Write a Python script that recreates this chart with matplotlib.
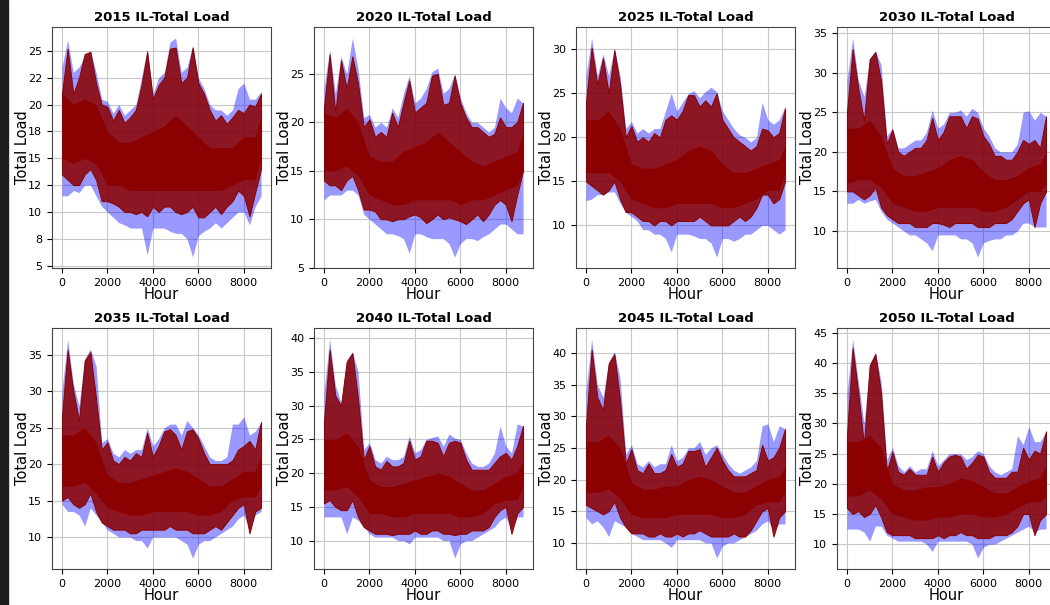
import numpy as np
import matplotlib
matplotlib.use('Agg')
import matplotlib.pyplot as plt
from matplotlib.ticker import FormatStrFormatter
from matplotlib.patches import Rectangle

HOURS = [0, 250, 500, 750, 1000, 1250, 1500, 1750, 2000, 2250, 2500, 2750,
         3000, 3250, 3500, 3750, 4000, 4250, 4500, 4750, 5000, 5250, 5500, 5750,
         6000, 6250, 6500, 6750, 7000, 7250, 7500, 7750, 8000, 8250, 8500, 8759]
# coarser grid for the solid core of the red curve
BODY_HOURS = [0, 500, 1000, 1500, 2000, 2500, 3000, 3500, 4000, 4500,
              5000, 5500, 6000, 6500, 7000, 7500, 8000, 8500, 8759]

YEARS = [2015, 2020, 2025, 2030, 2035, 2040, 2045, 2050]

# red = base case (spike tops / dips), blue = scenario spread
red_hi_2015 = [21, 25.2, 21, 22.5, 24.7, 24.9, 22, 20, 19.8, 18.5, 19.5, 18.3, 18.8, 19.5, 21.8, 24.9, 20.5, 21.8,
               22.5, 25.2, 25.3, 22, 22.5, 25.3, 22, 21, 19.5, 18.5, 19, 18.2, 18.8, 19.5, 19.2, 20, 19.8, 21]
red_lo_2015 = [13.5, 13, 12.5, 12.5, 13.5, 14, 13, 11, 11, 10.8, 10.5, 10, 10, 9.8, 10, 9.6, 10.5, 10,
               10.5, 10.5, 10, 9.8, 10, 10.5, 9.5, 9.5, 10, 10.5, 9.8, 10.5, 11, 12, 11.5, 9.6, 11.8, 14]
blue_hi_2015 = [23.5, 26, 23, 23.5, 24.5, 25, 23, 20.5, 20.3, 19.2, 20, 19, 19.5, 20, 22.5, 25.2, 21, 22.5,
                23, 25.8, 26.2, 23, 23.5, 25.5, 22.5, 21.5, 20, 19.5, 19.5, 19, 19.5, 21.5, 22, 20.5, 20.5, 21.2]
blue_lo_2015 = [11.5, 11.5, 12, 11.8, 12.5, 12.5, 11.5, 10.5, 10, 9.5, 9, 8.8, 8.5, 8.5, 8.5, 6, 8.5, 8.5,
                8.5, 8.2, 8, 8, 7.5, 5.8, 7.8, 8.2, 8.5, 9, 8.5, 9, 9.5, 10, 10, 8.8, 10.5, 11.5]
red_body_hi_2015 = [21, 20, 20.5, 20, 17.5, 16.5, 16.5, 17, 17.5, 18, 19, 18, 17, 16, 16, 16, 17, 17, 19]
red_body_lo_2015 = [15, 14.5, 15, 14.5, 12.5, 12.5, 12, 12, 12, 12, 12, 12, 12, 12, 12, 12.5, 13, 13, 15]

red_hi_2020 = [21.5, 27, 21, 26.4, 23.5, 26.8, 24, 19.5, 20.3, 18.5, 19, 18.5, 21, 19.5, 22, 24.3, 21, 21.5,
               22, 24.8, 25, 21.8, 22, 24.8, 22, 20.5, 19.5, 19.5, 19, 18.5, 18.8, 20.5, 19.5, 19.5, 20, 22]
red_lo_2020 = [14, 13.5, 13.5, 13, 14, 14.5, 13, 11, 11, 10.8, 10, 10, 9.8, 10, 10, 10.3, 10.5, 10.2,
               9.6, 10, 10.5, 10, 10.2, 10, 9.8, 9.5, 10, 10.5, 9.8, 10.5, 11.5, 12, 11.5, 9.8, 12.5, 15]
blue_hi_2020 = [23.5, 27.5, 23, 26.8, 25, 28.7, 25.5, 20.5, 20.8, 19.5, 20, 19.5, 21.5, 20.5, 23, 24.8, 22, 22.5,
                23.5, 25.2, 25.6, 23, 23.5, 25, 22.5, 21, 20, 20, 19.5, 19, 19.5, 22.5, 21.5, 21, 22.5, 22]
blue_lo_2020 = [12, 12.5, 12.5, 12.5, 13, 13, 12.5, 10.5, 10, 9.5, 9, 8.5, 8.5, 8.3, 8, 6.5, 8.5, 8.5,
                8.2, 8, 8, 8, 7.5, 6.1, 7.5, 8, 8, 7.8, 8.2, 8.5, 9, 9.5, 9.5, 9, 8.5, 8.5]
red_body_hi_2020 = [21, 20.5, 21.5, 20, 16.5, 16, 16, 17, 17.5, 18, 19, 18, 17, 16, 15.5, 16, 16.5, 17, 19]
red_body_lo_2020 = [15, 15, 15.5, 14.5, 12.5, 12, 11.5, 11.5, 12, 12, 12, 12, 11.5, 12, 12, 12.5, 13, 13.5, 15]

red_hi_2025 = [24, 30.2, 26, 29, 25, 29.9, 26, 20, 21.3, 19.5, 20, 19.5, 20.5, 20, 22, 22.5, 22, 23,
               24.8, 24.8, 23.5, 24.2, 23.5, 25, 22, 21, 20, 19.5, 19, 18.5, 19, 21, 20.8, 20, 20.5, 23.3]
red_lo_2025 = [15, 14.5, 14, 13.5, 14, 15, 13, 11.5, 11.5, 11, 10.5, 10.5, 10, 10.5, 10.5, 10, 10.5, 10.5,
               10.5, 10.5, 11, 10.5, 10, 10, 10, 10, 10.5, 11, 10.5, 11, 12, 13.5, 13.5, 12.5, 13, 15]
blue_hi_2025 = [27, 31.3, 27, 29.5, 27, 30.2, 27, 21, 21.8, 20.5, 21, 20.5, 21, 21, 23, 25, 23, 24,
                25, 25.3, 24.5, 25.2, 25.7, 25.2, 23, 22, 21, 20.3, 20, 19.5, 20, 24, 22, 21.5, 22, 23.5]
blue_lo_2025 = [12.8, 13, 13.5, 13.5, 13.8, 13.8, 12.5, 11.5, 11, 10.5, 9.5, 9.5, 9, 9, 8.5, 7, 9, 9,
                9, 8.8, 8.5, 8.5, 8, 6.4, 8.5, 8.5, 8.2, 8.5, 9, 9, 9.5, 10, 10, 9.5, 9, 9.5]
red_body_hi_2025 = [22, 22, 23, 21, 17, 16.5, 16.5, 17, 17.5, 18.5, 19, 18.5, 17, 16, 16, 16.5, 17, 17.5, 19]
red_body_lo_2025 = [16, 16, 16, 15, 13, 12.5, 12, 12, 12.5, 12.5, 12.5, 12.5, 12, 12, 12.5, 13, 14, 14, 16]

red_hi_2030 = [25, 33, 28, 24, 31.7, 32.6, 29, 21, 22.8, 20, 19.5, 20, 20.5, 20.5, 21.5, 24.3, 21.5, 22.5,
               24.5, 24.5, 24.5, 23, 24.5, 24.2, 22, 21, 19.5, 19.5, 19, 19, 20, 21.5, 21, 21.5, 20.5, 24.5]
red_lo_2030 = [15, 15, 14.5, 14, 14.5, 15.5, 13, 12, 11.5, 11, 11, 11, 10.5, 10.5, 10.5, 11, 11, 10.8,
               10.5, 11, 11, 11, 11, 10.5, 10.5, 10.5, 11, 11, 11, 11.5, 12.5, 13.5, 14, 10.5, 13.5, 15]
blue_hi_2030 = [29, 34.4, 29, 27, 31.8, 32.8, 31, 22, 23, 20.5, 20.5, 21, 21.5, 21.5, 22.5, 25.3, 23, 23.5,
                25, 25, 25.3, 24.5, 25.5, 25, 23, 22, 20.5, 20, 20, 20, 21, 25, 25.2, 24, 25, 24.5]
blue_lo_2030 = [13.5, 13.5, 14, 13.5, 13.8, 14, 12.5, 11.5, 11, 10.5, 10, 9.5, 9.5, 9, 8.5, 7.5, 9.5, 9.5,
                9.5, 9.5, 9, 9, 8.5, 6.7, 8.5, 8.8, 9, 9, 9.5, 9.5, 10, 11, 11, 10.5, 10.5, 10.5]
red_body_hi_2030 = [23, 23, 24, 22, 18, 17, 17, 17.5, 18, 19, 19.5, 19, 17.5, 16.5, 16.5, 17, 18, 18.5, 20]
red_body_lo_2030 = [16, 16.5, 16.5, 15.5, 13.5, 13, 12.5, 12.5, 13, 13, 13, 13, 12.5, 12.5, 13, 14, 15, 15, 16]

red_hi_2035 = [26.5, 35.7, 30, 26, 34.2, 35.4, 29, 22, 23, 20.5, 20, 21, 20.5, 21.5, 21, 24.3, 21, 22.5,
               24.5, 24.8, 24, 22, 24.5, 24.8, 23.5, 21.5, 20, 20, 20, 20, 20.5, 22, 22.5, 23.2, 22, 25.8]
red_lo_2035 = [15, 15.5, 14.5, 14, 14.5, 16, 13.5, 12, 11.5, 11, 11, 11, 10.5, 10.5, 11, 11, 11, 11,
               11, 11.5, 11, 11, 11, 10.5, 10.5, 10.5, 11, 11.5, 11, 12, 13, 14, 14.5, 10.5, 13.5, 14]
blue_hi_2035 = [30, 37.2, 31, 28, 34.5, 35.8, 33.5, 23, 23.5, 21.5, 21, 22, 21.5, 22, 22, 25, 22.5, 23.5,
                25, 25.5, 25.5, 24, 26, 25, 24, 22.5, 21, 20.5, 20.5, 21, 25.5, 25.5, 26.5, 24, 24.5, 25.8]
blue_lo_2035 = [14.5, 13.5, 13.5, 13, 11.5, 14, 13, 12, 11, 10.5, 10, 10, 10, 9.5, 9.5, 8.5, 10, 10,
                10, 10, 10, 9.5, 9, 7.1, 9, 9.5, 9.5, 10, 10.5, 11, 11.5, 12.5, 13, 11, 13, 13.5]
red_body_hi_2035 = [24, 24, 25, 23, 18.5, 17.5, 17.5, 18, 18.5, 19, 19.5, 19, 18, 17, 17, 18, 19, 19, 21]
red_body_lo_2035 = [17, 17, 17.5, 16, 14, 13.5, 13, 13, 13.5, 13.5, 13.5, 13.5, 13, 13, 13.5, 15, 15.5, 15.5, 17]

red_hi_2040 = [27.5, 38.3, 31.5, 30, 36.5, 37.8, 31, 22, 24, 21, 20.5, 21.8, 21, 21, 21.5, 24.8, 22, 22.5,
               24.8, 24.8, 24.5, 22.5, 24.5, 24.8, 24.5, 22, 20.5, 20.5, 20.5, 20.5, 21.5, 22.5, 23, 22, 24, 27]
red_lo_2040 = [15.5, 16, 15, 14.5, 14.5, 16, 13.5, 12, 11.5, 11, 11, 11, 10.8, 11, 11, 11, 11.5, 11,
               11, 11.5, 11.5, 11, 11, 10.8, 11, 11, 11.5, 11.5, 11.5, 12, 13.5, 14.5, 15, 11, 14, 15]
blue_hi_2040 = [32, 39.9, 33, 30.5, 36.8, 38, 35, 23.5, 24.5, 22, 21.5, 22.5, 22, 22, 22.5, 25.5, 23, 23.5,
                25, 25.3, 25.5, 24, 25.8, 25.2, 25, 23, 21.5, 21, 21, 21.5, 23, 27, 24, 23, 27.3, 27]
blue_lo_2040 = [13.5, 13.5, 13.5, 13.5, 11, 13.5, 13, 12, 11, 10.5, 10.5, 10.5, 10.5, 10, 10, 9.5, 10.5, 10.5,
                10.5, 10.5, 10.5, 10, 10, 7.4, 9.5, 10, 10, 10.5, 11, 11.5, 12, 13, 13.5, 11.5, 13.5, 13.5]
red_body_hi_2040 = [25, 25, 26, 24, 19, 18, 18, 18.5, 19, 19.5, 20, 19.5, 18.5, 17.5, 17.5, 18.5, 19.5, 20, 22]
red_body_lo_2040 = [17.5, 17.5, 18, 16.5, 14, 14, 13.5, 13.5, 14, 14, 14, 14, 13.5, 13.5, 14, 15.5, 16, 16, 18]

red_hi_2045 = [28.5, 40.5, 33, 31, 38.3, 39.8, 32.5, 22.5, 24.8, 21.5, 21, 22.5, 21, 21, 21.5, 24, 22, 22.5,
               24.5, 24.5, 24.8, 22, 23.5, 25, 23, 21.5, 20.5, 20.5, 20.5, 21, 21.5, 25.5, 23, 23.5, 25, 28]
red_lo_2045 = [16, 15.5, 15, 14.5, 15, 16.5, 14, 12.5, 11.5, 11.5, 11.5, 11, 11, 11.5, 11, 11, 11.5, 11,
               11.5, 11.5, 12, 11.5, 11, 11, 11, 11, 11.5, 11, 11, 12, 13.5, 15, 15.5, 11, 14, 15]
blue_hi_2045 = [34, 42.2, 35, 33, 38.6, 40.2, 36, 24, 25.5, 22.5, 22, 23, 22, 22.5, 22.5, 25.5, 23, 23.5,
                25, 25, 26, 24, 25, 25.5, 24, 22.5, 21.5, 21, 21.5, 22, 23, 28.5, 28.8, 26, 28.5, 28]
blue_lo_2045 = [14, 13, 13.5, 12.5, 11, 13.5, 13, 12.5, 11.5, 11, 10.5, 10.5, 10.5, 10.5, 10, 9.3, 10.5, 10.5,
                10.5, 10.5, 10.5, 10, 10, 7.6, 9.5, 10, 10, 10.5, 11, 11.5, 12, 13, 13.5, 12, 13, 13]
red_body_hi_2045 = [26, 26, 27, 25, 19.5, 18.5, 18.5, 19, 19, 20, 20.5, 20, 19, 18, 18, 19, 20, 20.5, 22]
red_body_lo_2045 = [18, 18, 18.5, 17, 14.5, 14, 14, 14, 14.5, 14.5, 14.5, 14.5, 14, 14, 14.5, 16, 16.5, 16.5, 18]

red_hi_2050 = [28, 42.5, 35, 26.5, 39.6, 41.5, 35, 22, 25.3, 22, 21.5, 22.5, 21.5, 21.5, 21.5, 24.5, 22, 23.5,
               24.5, 24.8, 24.5, 22.5, 23.5, 24.8, 24.5, 22, 21, 21, 21, 22, 22, 26, 24, 25.5, 25, 28.7]
red_lo_2050 = [16, 15, 15.5, 14.5, 15, 16.5, 14.5, 12, 11.5, 11.5, 11.5, 11.5, 11, 11, 11, 11, 11.5, 11,
               11.5, 11.5, 12, 11.5, 11.5, 11, 11, 11, 11.5, 11.5, 11.5, 12, 13, 15, 15, 11.5, 14, 15]
blue_hi_2050 = [35, 44, 37, 30, 39.8, 41.8, 37, 24, 26, 23, 22, 23, 22, 22.5, 22.5, 25.5, 23, 24,
                25, 25, 25, 24, 24.5, 25.5, 25, 23, 22, 21.5, 22, 22.5, 28, 26.5, 29.5, 27, 27, 28.7]
blue_lo_2050 = [12.5, 12.5, 12.5, 12, 10.5, 13, 13, 11.5, 11, 10.5, 10.5, 10.5, 10.5, 10.5, 10, 8.8, 10.5, 10.5,
                10.5, 10.5, 10.5, 10.5, 10, 7.7, 9.5, 10, 10, 10.5, 11, 11.5, 12, 12.5, 13, 12, 12.5, 12.5]
red_body_hi_2050 = [27, 27, 28, 26, 20, 19, 19, 19.5, 19.5, 20, 21, 20.5, 19.5, 18.5, 18.5, 19.5, 20.5, 21, 23]
red_body_lo_2050 = [18, 18, 19, 17.5, 15, 14.5, 14, 14, 14.5, 14.5, 15, 15, 14.5, 14.5, 15, 16, 17, 17, 18]

XTICKS = [0, 2000, 4000, 6000, 8000]
YTICKS = {
    2015: [5, 7.5, 10, 12.5, 15, 17.5, 20, 22.5, 25],
    2020: [5, 10, 15, 20, 25],
    2025: [10, 15, 20, 25, 30],
    2030: [10, 15, 20, 25, 30, 35],
    2035: [10, 15, 20, 25, 30, 35],
    2040: [10, 15, 20, 25, 30, 35, 40],
    2045: [10, 15, 20, 25, 30, 35, 40],
    2050: [10, 15, 20, 25, 30, 35, 40, 45],
}

series = {
    2015: (red_lo_2015, red_hi_2015, blue_lo_2015, blue_hi_2015, red_body_lo_2015, red_body_hi_2015),
    2020: (red_lo_2020, red_hi_2020, blue_lo_2020, blue_hi_2020, red_body_lo_2020, red_body_hi_2020),
    2025: (red_lo_2025, red_hi_2025, blue_lo_2025, blue_hi_2025, red_body_lo_2025, red_body_hi_2025),
    2030: (red_lo_2030, red_hi_2030, blue_lo_2030, blue_hi_2030, red_body_lo_2030, red_body_hi_2030),
    2035: (red_lo_2035, red_hi_2035, blue_lo_2035, blue_hi_2035, red_body_lo_2035, red_body_hi_2035),
    2040: (red_lo_2040, red_hi_2040, blue_lo_2040, blue_hi_2040, red_body_lo_2040, red_body_hi_2040),
    2045: (red_lo_2045, red_hi_2045, blue_lo_2045, blue_hi_2045, red_body_lo_2045, red_body_hi_2045),
    2050: (red_lo_2050, red_hi_2050, blue_lo_2050, blue_hi_2050, red_body_lo_2050, red_body_hi_2050),
}

W, H = 1050, 605
fig = plt.figure(figsize=(W / 100, H / 100), dpi=100)
# dark strip of the notebook frame on the left
fig.patches.append(Rectangle((0, 0), 8 / W, 1, transform=fig.transFigure,
                             color='#1e1e1e', zorder=0))

lefts = [52, 314, 576, 837]
tops = [27, 328]
aw, ah = 219, 241

for k, year in enumerate(YEARS):
    r, c = divmod(k, 4)
    ax = fig.add_axes([lefts[c] / W, 1 - (tops[r] + ah) / H, aw / W, ah / H])
    rlo, rhi, blo, bhi, body_lo, body_hi = series[year]
    # spread of the scenarios
    ax.fill_between(HOURS, blo, bhi, color='blue', alpha=0.4, lw=0)
    # daily spikes of the base case (not fully covered), then its solid core
    ax.fill_between(HOURS, rlo, rhi, facecolor=(0.545, 0, 0, 0.86),
                    edgecolor='darkred', lw=0.7)
    ax.fill_between(BODY_HOURS, body_lo, body_hi, color='darkred', lw=0)
    ax.set_title('{} IL-Total Load'.format(year), fontweight='bold', fontsize=9.5, pad=4)
    ax.set_xlabel('Hour', fontsize=10.5)
    ax.set_ylabel('Total Load', fontsize=10.5)
    ax.xaxis.set_label_coords(0.5, -0.08)
    ax.yaxis.set_label_coords(-0.10, 0.5)
    ax.set_xticks(XTICKS)
    ax.set_yticks(YTICKS[year])
    ax.yaxis.set_major_formatter(FormatStrFormatter('%.0f'))
    ax.tick_params(labelsize=8)
    ax.grid(True, color='#c8c8c8', lw=0.8)
    ax.set_axisbelow(True)
    for s in ax.spines.values():
        s.set_color('#444444')

fig.savefig('out.png', dpi=100)
